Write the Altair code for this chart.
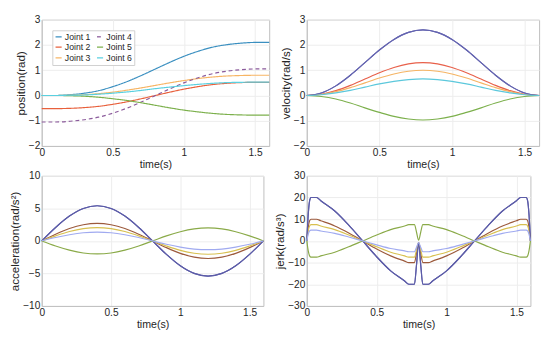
import altair as alt
import pandas as pd

JOINTS = ["Joint 1", "Joint 2", "Joint 3", "Joint 4", "Joint 5", "Joint 6"]

# time grid for position / velocity / acceleration (s)
t_main = [0, 0.1, 0.2, 0.3, 0.4, 0.5, 0.6, 0.7, 0.8, 0.9, 1.0, 1.1, 1.2, 1.3, 1.4, 1.5, 1.6]

# position (rad)
pos_j1 = [0, 0.00, 0.03, 0.09, 0.19, 0.35, 0.55, 0.79, 1.05, 1.31, 1.55, 1.75, 1.91, 2.01, 2.07, 2.10, 2.10]
pos_j2 = [-0.52, -0.52, -0.51, -0.48, -0.43, -0.35, -0.25, -0.13, 0.00, 0.13, 0.25, 0.35, 0.43, 0.48, 0.51, 0.52, 0.52]
pos_j3 = [0, 0.00, 0.01, 0.03, 0.07, 0.13, 0.21, 0.30, 0.40, 0.50, 0.59, 0.67, 0.73, 0.77, 0.79, 0.80, 0.80]
pos_j4 = [-1.05, -1.05, -1.02, -0.96, -0.86, -0.70, -0.50, -0.26, 0.00, 0.26, 0.50, 0.70, 0.86, 0.96, 1.02, 1.05, 1.05]
pos_j5 = [0, 0.00, -0.01, -0.03, -0.07, -0.13, -0.20, -0.29, -0.39, -0.49, -0.58, -0.65, -0.71, -0.75, -0.77, -0.78, -0.78]
pos_j6 = [0, 0.00, 0.01, 0.02, 0.05, 0.09, 0.14, 0.20, 0.27, 0.33, 0.39, 0.44, 0.48, 0.51, 0.52, 0.53, 0.53]

# velocity (rad/s)
vel_j1 = [0, 0.10, 0.38, 0.80, 1.30, 1.80, 2.22, 2.50, 2.60, 2.50, 2.22, 1.80, 1.30, 0.80, 0.38, 0.10, 0]
vel_j2 = [0, 0.05, 0.19, 0.40, 0.65, 0.90, 1.11, 1.25, 1.30, 1.25, 1.11, 0.90, 0.65, 0.40, 0.19, 0.05, 0]
vel_j3 = [0, 0.04, 0.15, 0.31, 0.50, 0.69, 0.85, 0.96, 1.00, 0.96, 0.85, 0.69, 0.50, 0.31, 0.15, 0.04, 0]
vel_j4 = [0, 0.10, 0.38, 0.80, 1.30, 1.80, 2.22, 2.50, 2.60, 2.50, 2.22, 1.80, 1.30, 0.80, 0.38, 0.10, 0]
vel_j5 = [0, -0.04, -0.14, -0.30, -0.49, -0.67, -0.83, -0.93, -0.97, -0.93, -0.83, -0.67, -0.49, -0.30, -0.14, -0.04, 0]
vel_j6 = [0, 0.03, 0.10, 0.20, 0.33, 0.46, 0.56, 0.63, 0.66, 0.63, 0.56, 0.46, 0.33, 0.20, 0.10, 0.03, 0]

# acceleration (rad/s^2)
acc_j1 = [0, 2.07, 3.82, 4.99, 5.40, 4.99, 3.82, 2.07, 0, -2.07, -3.82, -4.99, -5.40, -4.99, -3.82, -2.07, 0]
acc_j2 = [0, 1.03, 1.91, 2.49, 2.70, 2.49, 1.91, 1.03, 0, -1.03, -1.91, -2.49, -2.70, -2.49, -1.91, -1.03, 0]
acc_j3 = [0, 0.78, 1.45, 1.89, 2.05, 1.89, 1.45, 0.78, 0, -0.78, -1.45, -1.89, -2.05, -1.89, -1.45, -0.78, 0]
acc_j4 = [0, 2.07, 3.82, 4.99, 5.40, 4.99, 3.82, 2.07, 0, -2.07, -3.82, -4.99, -5.40, -4.99, -3.82, -2.07, 0]
acc_j5 = [0, -0.77, -1.41, -1.85, -2.00, -1.85, -1.41, -0.77, 0, 0.77, 1.41, 1.85, 2.00, 1.85, 1.41, 0.77, 0]
acc_j6 = [0, 0.52, 0.95, 1.25, 1.35, 1.25, 0.95, 0.52, 0, -0.52, -0.95, -1.25, -1.35, -1.25, -0.95, -0.52, 0]

# time grid for jerk (s)
t_jerk = [0, 0.01, 0.02, 0.03, 0.05, 0.07, 0.1, 0.2, 0.3, 0.4, 0.5, 0.6, 0.7, 0.73, 0.77, 0.785,
          0.8, 0.815, 0.83, 0.87, 0.9, 1.0, 1.1, 1.2, 1.3, 1.4, 1.5, 1.53, 1.57, 1.58, 1.59, 1.6]

# jerk (rad/s^3)
jrk_j1 = [0, 12, 18.5, 20, 20, 20, 18.5, 13.8, 7.3, 0, -7.3, -13.8, -18.5, -20, -20, -11,
          -0.8, -11, -20, -20, -18.5, -13.8, -7.3, 0, 7.3, 13.8, 18.5, 20, 20, 18.5, 12, 0]
jrk_j2 = [0, 6, 9.3, 10, 10, 10, 9.3, 6.9, 3.7, 0, -3.7, -6.9, -9.3, -10, -10, -5.5,
          -0.8, -5.5, -10, -10, -9.3, -6.9, -3.7, 0, 3.7, 6.9, 9.3, 10, 10, 9.3, 6, 0]
jrk_j3 = [0, 4.5, 6.9, 7.5, 7.5, 7.5, 6.9, 5.2, 2.7, 0, -2.7, -5.2, -6.9, -7.5, -7.5, -4.2,
          -0.8, -4.2, -7.5, -7.5, -6.9, -5.2, -2.7, 0, 2.7, 5.2, 6.9, 7.5, 7.5, 6.9, 4.5, 0]
jrk_j4 = [0, 12, 18.5, 20, 20, 20, 18.5, 13.8, 7.3, 0, -7.3, -13.8, -18.5, -20, -20, -11,
          -0.8, -11, -20, -20, -18.5, -13.8, -7.3, 0, 7.3, 13.8, 18.5, 20, 20, 18.5, 12, 0]
jrk_j5 = [0, -4.5, -6.9, -7.5, -7.5, -7.5, -6.9, -5.2, -2.7, 0, 2.7, 5.2, 6.9, 7.5, 7.5, 4,
          0.3, 4, 7.5, 7.5, 6.9, 5.2, 2.7, 0, -2.7, -5.2, -6.9, -7.5, -7.5, -6.9, -4.5, 0]
jrk_j6 = [0, 3, 4.6, 5, 5, 5, 4.6, 3.5, 1.8, 0, -1.8, -3.5, -4.6, -5, -5, -2.9,
          -0.8, -2.9, -5, -5, -4.6, -3.5, -1.8, 0, 1.8, 3.5, 4.6, 5, 5, 4.6, 3, 0]

# colours per panel
pos_colors = {"Joint 1": "#3a8fc0", "Joint 2": "#e8603c", "Joint 3": "#f7b565",
              "Joint 4": "#8b5a9b", "Joint 5": "#7cb04c", "Joint 6": "#5ad0e0"}
vel_colors = {"Joint 1": "#6464b0", "Joint 2": "#e8604a", "Joint 3": "#f5b464",
              "Joint 4": "#6464b0", "Joint 5": "#7cb04c", "Joint 6": "#5cc8dc"}
acc_colors = {"Joint 1": "#5c5ca8", "Joint 2": "#9c5a3c", "Joint 3": "#d8c050",
              "Joint 4": "#5c5ca8", "Joint 5": "#8aaa48", "Joint 6": "#a0aaf0"}

FONT = "Liberation Sans"


def long_df(t, series):
    rows = []
    for j, vals in zip(JOINTS, series):
        for ti, v in zip(t, vals):
            rows.append({"t": ti, "v": v, "joint": j})
    return pd.DataFrame(rows)


def panel(df, ytitle, ydom, yvals, w, h, cmap, legend=False, dash=False):
    x = alt.X("t:Q", scale=alt.Scale(domain=[0, 1.6], nice=False, zero=False),
              axis=alt.Axis(values=[0, 0.5, 1, 1.5], format="~g", title="time(s)", labelFlush=False,
                            titleFontSize=11))
    y = alt.Y("v:Q", scale=alt.Scale(domain=ydom, nice=False, zero=False),
              axis=alt.Axis(values=yvals, title=ytitle, labelFlush=False, titleFontSize=12))
    cscale = alt.Scale(domain=JOINTS, range=[cmap[j] for j in JOINTS])
    if legend:
        leg = alt.Legend(title=None, orient="top-left", offset=11, columns=2, symbolType="stroke",
                         labelFontSize=9, labelFont=FONT, labelColor="#262626", symbolSize=40,
                         symbolStrokeWidth=1.3, padding=2, fillColor="white", strokeColor="#cfcfcf",
                         rowPadding=1, columnPadding=3, labelOffset=2, labelLimit=60)
        color = alt.Color("joint:N", scale=cscale, legend=leg)
    else:
        color = alt.Color("joint:N", scale=cscale, legend=None)
    enc = dict(x=x, y=y, color=color)
    if dash:
        dash_range = [[4, 3] if j == "Joint 4" else [1, 0] for j in JOINTS]
        dscale = alt.Scale(domain=JOINTS, range=dash_range)
        if legend:
            enc["strokeDash"] = alt.StrokeDash("joint:N", scale=dscale, legend=leg)
        else:
            enc["strokeDash"] = alt.StrokeDash("joint:N", scale=dscale, legend=None)
    return alt.Chart(df).mark_line(strokeWidth=1.2, interpolate="monotone").encode(**enc).properties(
        width=w, height=h)


pos = panel(long_df(t_main, [pos_j1, pos_j2, pos_j3, pos_j4, pos_j5, pos_j6]),
            "position(rad)", [-2, 3], [-2, -1, 0, 1, 2, 3], 236, 131, pos_colors, legend=True, dash=True)
vel = panel(long_df(t_main, [vel_j1, vel_j2, vel_j3, vel_j4, vel_j5, vel_j6]),
            "velocity(rad/s)", [-2, 3], [-2, -1, 0, 1, 2, 3], 241, 131, vel_colors)
acc = panel(long_df(t_main, [acc_j1, acc_j2, acc_j3, acc_j4, acc_j5, acc_j6]),
            "acceleration(rad/s²)", [-10, 10], [-10, -5, 0, 5, 10], 230, 135, acc_colors)
jrk = panel(long_df(t_jerk, [jrk_j1, jrk_j2, jrk_j3, jrk_j4, jrk_j5, jrk_j6]),
            "jerk(rad/s³)", [-30, 30], [-30, -20, -10, 0, 10, 20, 30], 232, 135, acc_colors)

top = alt.hconcat(pos, vel, spacing=7).resolve_scale(color="independent", strokeDash="independent")
bottom = alt.hconcat(acc, jrk, spacing=7).resolve_scale(color="independent")

chart = alt.vconcat(top, bottom, spacing=0, padding=0).resolve_scale(
    color="independent", strokeDash="independent"
).configure_axis(
    labelFont=FONT, titleFont=FONT, labelFontSize=10.5, titleFontWeight="normal",
    labelColor="#262626", titleColor="#262626", gridColor="#ececec", domainColor="#bdbdbd",
    ticks=False, labelPadding=2, titlePadding=1
).configure_view(stroke="#bdbdbd", strokeWidth=1)

chart.save("out.html", embed_options={"renderer": "svg", "actions": False})
